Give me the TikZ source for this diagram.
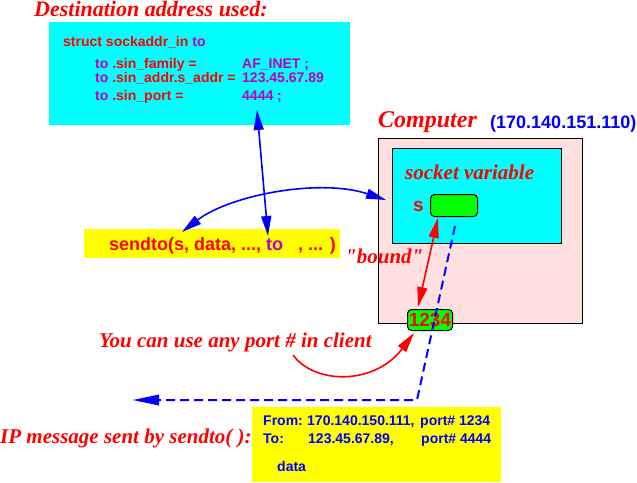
\documentclass[tikz,border=0pt]{standalone}
\usepackage{fontspec}
\setmainfont{Liberation Serif}
\setsansfont{Liberation Sans}
\newfontfamily\quoteserif[Ligatures=TeXReset]{Liberation Serif}
\usetikzlibrary{arrows.meta}
\definecolor{mred}{RGB}{255,0,0}
\definecolor{mmag}{RGB}{190,0,190}
\definecolor{mblue}{RGB}{0,0,255}
\definecolor{mcyan}{RGB}{0,255,255}
\definecolor{myellow}{RGB}{255,255,0}
\definecolor{mgreen}{RGB}{0,255,0}
\definecolor{mpink}{RGB}{255,224,224}
\begin{document}
\begin{tikzpicture}[x=1pt,y=-1pt,
  lbl/.style={font=\fontsize{21}{21}\selectfont\bfseries\itshape, text=mred, inner sep=0, anchor=base west},
  code/.style={font=\fontsize{14}{14}\selectfont\sffamily\bfseries, inner sep=0, anchor=base west},
  boxfill/.style={inner sep=0, anchor=north west},
  framed/.style={boxfill, draw=black, line width=1pt},
  pill/.style={inner sep=0, draw=black, line width=1pt, fill=mgreen, rounded corners=4pt, anchor=north west},
  headtip/.tip={Triangle[length=20pt,width=10pt]},
  bluearrow/.style={draw=mblue, line width=1.6pt, {headtip}-{headtip}},
  redarrow/.style={draw=mred, line width=1.6pt},
  dashline/.style={draw=mblue, line width=2pt, dash pattern=on 9pt off 5pt}
]
\useasboundingbox (0,0) rectangle (637,482);

% boxes
\node[boxfill, fill=mcyan, minimum width=301pt, minimum height=103pt] (dest) at (49,22) {};
\node[boxfill, fill=myellow, minimum width=256pt, minimum height=29pt] (sendbox) at (84,229) {};
\node[framed, fill=mpink, minimum width=204pt, minimum height=185pt] (comp) at (378,138) {};
\node[framed, fill=mcyan, minimum width=169pt, minimum height=95pt] (sock) at (392,148) {};
\node[pill, minimum width=47pt, minimum height=22pt] (sbox) at (430,194) {};
\node[pill, minimum width=45pt, minimum height=21pt, font=\fontsize{19}{19}\selectfont\sffamily\bfseries, text=mred] (port) at (407,309) {1234};
\node[boxfill, fill=myellow, minimum width=249pt, minimum height=75pt] (ipbox) at (252,407) {};

% titles
\node[lbl, font=\fontsize{22}{22}\selectfont\bfseries\itshape] (desttitle) at (34,16) {Destination address used:};
\node[lbl, font=\fontsize{24}{24}\selectfont\bfseries\itshape] (comptitle) at (378,127) {Computer};
\node[code, font=\fontsize{18}{18}\selectfont\sffamily\bfseries, text=mblue] (compip) at (490,128) {(170.140.151.110)};
\node[lbl] (socktitle) at (405,179) {socket variable};
\node[code, font=\fontsize{19}{19}\selectfont\sffamily\bfseries, text=mred] (slabel) at (413,211) {s};
\node[lbl, font=\fontsize{21}{21}\selectfont\quoteserif\bfseries\itshape] (bound) at (345,263) {"bound"};
\node[lbl] (anyport) at (99,347) {You can use any port \# in client};
\node[lbl] (iptitle) at (0,443) {IP message sent by sendto( ):};

% struct text
\node[code, text=mred] (l1) at (63,46) {struct sockaddr\_in \textcolor{mmag}{to}};
\node[code, text=mred] (l2) at (95,68) {\textcolor{mmag}{to} .sin\_family =};
\node[code, text=mred] (l3) at (95,82) {\textcolor{mmag}{to} .sin\_addr.s\_addr =};
\node[code, text=mred] (l4) at (95,100) {\textcolor{mmag}{to} .sin\_port =};
\node[code, text=mmag] (v2) at (242,68) {AF\_INET ;};
\node[code, text=mmag] (v3) at (242,82) {123.45.67.89};
\node[code, text=mmag] (v4) at (242,100) {4444 ;};

% sendto call
\node[code, font=\fontsize{18}{18}\selectfont\sffamily\bfseries, text=mred] (call) at (109,250) {sendto(s, data, ..., \textcolor{mmag}{to}\ \ \ , ... )};

% IP message contents
\node[code, text=mblue] (f1) at (263,425) {From:};
\node[code, text=mblue] (f2) at (307,425) {170.140.150.111,};
\node[code, text=mblue] (f3) at (420,425) {port\# 1234};
\node[code, text=mblue] (t1) at (263,443) {To:};
\node[code, text=mblue] (t2) at (308,443) {123.45.67.89,};
\node[code, text=mblue] (t3) at (421,443) {port\# 4444};
\node[code, text=mblue] (dat) at (277,471) {data};

% connector end points
\coordinate (portfield) at (257,110);
\coordinate (callto) at (268,236);
\coordinate (callleft) at (182,232);
\coordinate (compleft) at (386,200);
\coordinate (sbottom) at (438,218);
\coordinate (porttop) at (418,307);
\coordinate (dstart) at (455,226);
\coordinate (dcorner) at (417,400);
\coordinate (dend) at (133,400);
\coordinate (anystart) at (293,355);
\coordinate (portbl) at (414,333);

% connectors
\draw[bluearrow] (portfield) -- (callto);
\draw[bluearrow] (callleft) .. controls (230,195) and (320,178) .. (compleft);
\draw[redarrow, {headtip}-{headtip}] (sbottom) -- (porttop);
\draw[redarrow, -{headtip}] (anystart) .. controls (315,385) and (375,385) .. (portbl);
\draw[dashline] (dstart) -- (dcorner) -- (dend);
\fill[mblue] (dend) -- ++(26,-5.5) -- ++(0,11) -- cycle;
\end{tikzpicture}
\end{document}
